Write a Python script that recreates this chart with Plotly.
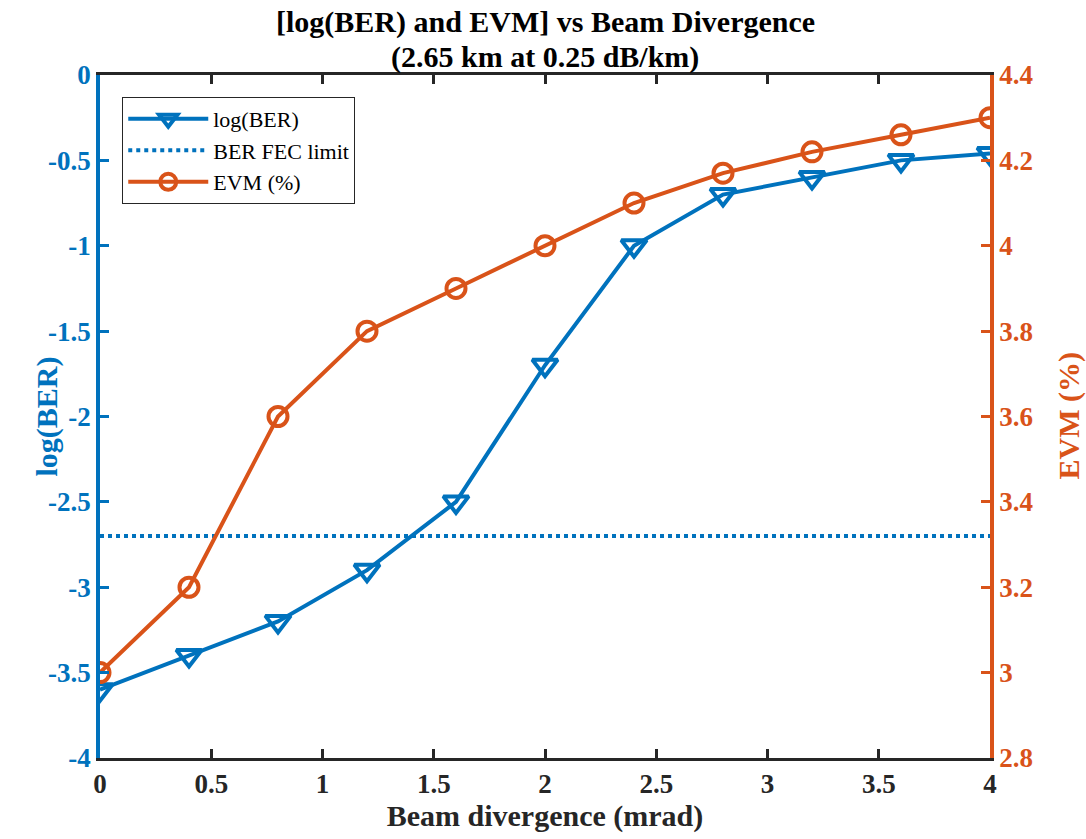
import plotly.graph_objects as go

divergence = [0, 0.4, 0.8, 1.2, 1.6, 2.0, 2.4, 2.8, 3.2, 3.6, 4.0]
log_ber = [-3.6, -3.4, -3.2, -2.9, -2.5, -1.7, -1.0, -0.7, -0.6, -0.5, -0.46]
evm = [3.0, 3.2, 3.6, 3.8, 3.9, 4.0, 4.1, 4.17, 4.22, 4.26, 4.30]
fec_x = [0, 4]
fec_limit = [-2.7, -2.7]

x_ticks = [0, 0.5, 1, 1.5, 2, 2.5, 3, 3.5, 4]
x_labels = ["0", "0.5", "1", "1.5", "2", "2.5", "3", "3.5", "4"]
y_ticks = [-4, -3.5, -3, -2.5, -2, -1.5, -1, -0.5, 0]
y_labels = ["-4", "-3.5", "-3", "-2.5", "-2", "-1.5", "-1", "-0.5", "0"]
y2_ticks = [2.8, 3.0, 3.2, 3.4, 3.6, 3.8, 4.0, 4.2, 4.4]
y2_labels = ["2.8", "3", "3.2", "3.4", "3.6", "3.8", "4", "4.2", "4.4"]
title_lines = ["[log(BER) and EVM] vs Beam Divergence", "(2.65 km at 0.25 dB/km)"]
y_title = "log(BER)"
y2_title = "EVM (%)"
x_title = "Beam divergence (mrad)"

BLUE = "#0072BD"
ORANGE = "#D95319"
DARK = "#262626"
FONT = "Liberation Serif"
TICK = 27
TITLE = 30

fig = go.Figure()
fig.add_trace(go.Scatter(
    x=divergence, y=log_ber, name="log(BER)", mode="lines+markers",
    line=dict(color=BLUE, width=4),
    marker=dict(symbol="triangle-down-open", size=22, color=BLUE, line=dict(width=4, color=BLUE)),
    yaxis="y"))
fig.add_trace(go.Scatter(
    x=fec_x, y=fec_limit, name="BER FEC limit", mode="lines",
    line=dict(color=BLUE, width=4, dash="dot"), yaxis="y"))
fig.add_trace(go.Scatter(
    x=divergence, y=evm, name="EVM (%)", mode="lines+markers",
    line=dict(color=ORANGE, width=4),
    marker=dict(symbol="circle-open", size=19, color=ORANGE, line=dict(width=4, color=ORANGE)),
    yaxis="y2"))

for text, ypix in zip(title_lines, [22, 57]):
    fig.add_annotation(
        text="<b>%s</b>" % text, xref="paper", yref="paper",
        x=0.5, y=1 + (75 - ypix) / 683, xanchor="center", yanchor="middle",
        showarrow=False, font=dict(family=FONT, size=TITLE, color="black"))

# y-axis titles placed like the reference (close to the tick labels)
fig.add_annotation(
    text="<b>%s</b>" % y_title, xref="paper", yref="paper",
    x=(46 - 100) / 890, y=0.5, xanchor="center", yanchor="middle", textangle=-90,
    showarrow=False, font=dict(family=FONT, size=TITLE, color=BLUE))
fig.add_annotation(
    text="<b>%s</b>" % y2_title, xref="paper", yref="paper",
    x=(1068 - 100) / 890, y=0.5, xanchor="center", yanchor="middle", textangle=-90,
    showarrow=False, font=dict(family=FONT, size=TITLE, color=ORANGE))

fig.update_layout(
    width=1086, height=839,
    margin=dict(l=100, r=96, t=75, b=81),
    plot_bgcolor="white", paper_bgcolor="white",
    xaxis=dict(
        range=[0, 4], tickmode="array", tickvals=x_ticks, ticktext=x_labels,
        showline=True, linecolor=DARK, linewidth=3, mirror="ticks",
        ticks="inside", ticklen=9, tickwidth=3, tickcolor=DARK,
        showgrid=False, zeroline=False,
        tickfont=dict(family=FONT, size=TICK, color=DARK, weight="bold"),
        title=dict(text="<b>%s</b>" % x_title, font=dict(family=FONT, size=TITLE, color=DARK), standoff=0)),
    yaxis=dict(
        range=[-4, 0], tickmode="array", tickvals=y_ticks, ticktext=y_labels,
        showline=True, linecolor=BLUE, linewidth=3.5,
        ticks="inside", ticklen=9, tickwidth=3, tickcolor=BLUE,
        showgrid=False, zeroline=False, automargin=False,
        tickfont=dict(family=FONT, size=TICK, color=BLUE, weight="bold")),
    yaxis2=dict(
        range=[2.8, 4.4], overlaying="y", side="right", tickmode="array",
        tickvals=y2_ticks, ticktext=y2_labels,
        showline=True, linecolor=ORANGE, linewidth=3.5,
        ticks="inside", ticklen=9, tickwidth=3, tickcolor=ORANGE,
        showgrid=False, zeroline=False, automargin=False,
        tickfont=dict(family=FONT, size=TICK, color=ORANGE, weight="bold")),
    legend=dict(
        x=0.025, y=0.968, xanchor="left", yanchor="top",
        bgcolor="white", bordercolor=DARK, borderwidth=1,
        font=dict(family=FONT, size=22, color="black"),
        itemwidth=80, tracegroupgap=0),
    showlegend=True,
)

fig.write_html("out.html")
